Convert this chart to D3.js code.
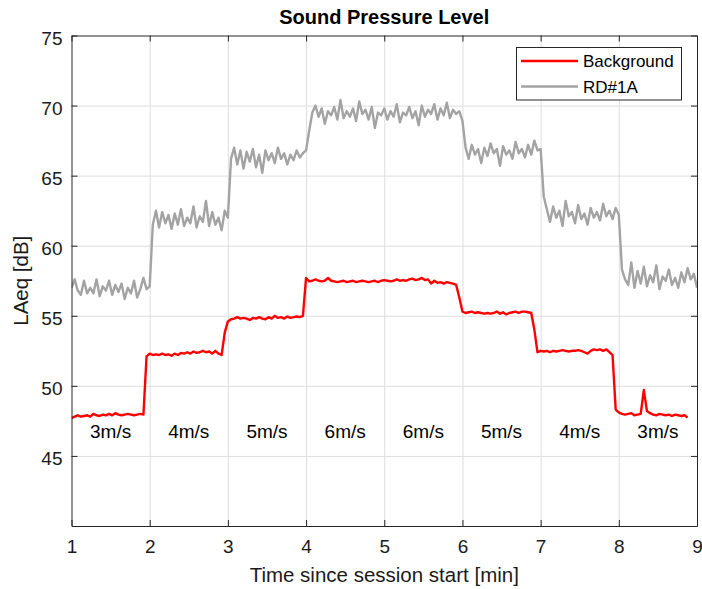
<!DOCTYPE html>
<html>
<head>
<meta charset="utf-8">
<script src="https://cdn.jsdelivr.net/npm/d3@7"></script>
<style>
  html, body { margin: 0; padding: 0; background: #ffffff; }
  svg { display: block; font-family: "Liberation Sans", Arial, Helvetica, sans-serif; }
</style>
</head>
<body>
<svg id="chart" width="702" height="589"></svg>
<script>
// ---------------- data ----------------
const chartTitle = "Sound Pressure Level";
const xLabel = "Time since session start [min]";
const yLabel = "LAeq [dB]";
const xTicks = [1, 2, 3, 4, 5, 6, 7, 8, 9];
const yTicks = [45, 50, 55, 60, 65, 70, 75];
const xDomain = [1, 9];
const yDomain = [40, 75];
const seriesNames = ["Background", "RD#1A"];
const windSpeeds = ["3m/s", "4m/s", "5m/s", "6m/s", "6m/s", "5m/s", "4m/s", "3m/s"];
const speedLabelLevel = 46.3;           // dB level where speed labels sit
const sampleStart = 1.0;                // min
const sampleStep = 0.04;                // min between samples

// Background (red), sampled every 0.04 min from 1.00
const background = [
  47.7, 47.8, 47.9, 47.8, 47.85, 47.9, 47.8, 48.0, 47.9, 47.85, 47.95, 47.9, 48.0, 47.9, 48.05, 47.95, 47.9, 47.95, 48.0, 47.95, 47.9, 47.95, 48.0, 47.95,
  52.1, 52.3, 52.2, 52.25, 52.2, 52.3, 52.2, 52.25, 52.15, 52.3, 52.2, 52.35, 52.3, 52.4, 52.3, 52.45, 52.35, 52.4, 52.5, 52.4, 52.45, 52.3, 52.5, 52.3, 52.2,
  53.8, 54.6,
  54.75, 54.8, 54.9, 54.8, 54.85, 54.8, 54.7, 54.85, 54.8, 54.9, 54.8, 54.75, 54.9, 54.8, 55.0, 54.85, 54.9, 54.8, 54.95, 54.85, 54.9, 54.95, 54.9, 55.0,
  57.7, 57.45, 57.5, 57.6, 57.5, 57.45, 57.5, 57.7, 57.5, 57.45, 57.4, 57.45, 57.5, 57.4, 57.45, 57.5, 57.4, 57.45, 57.5, 57.45, 57.4,
  57.45, 57.5, 57.4, 57.5, 57.55, 57.5, 57.45, 57.5, 57.6, 57.5, 57.55, 57.5, 57.6, 57.65, 57.55, 57.6, 57.7, 57.55, 57.6, 57.3, 57.5, 57.35, 57.4, 57.3, 57.4, 57.35, 57.3, 57.2,
  56.3, 55.3,
  55.2, 55.25, 55.3, 55.2, 55.25, 55.2, 55.15, 55.2, 55.15, 55.2, 55.3, 55.15, 55.25, 55.1, 55.2, 55.25, 55.3, 55.2, 55.3, 55.3, 55.25,
  55.2, 54.0, 52.4,
  52.5, 52.45, 52.5, 52.4, 52.5, 52.45, 52.5, 52.55, 52.5, 52.45, 52.5, 52.5, 52.55, 52.5, 52.4, 52.3, 52.5, 52.6, 52.55, 52.6, 52.5, 52.6, 52.4,
  52.2, 48.3,
  48.1, 48.0, 47.95, 48.0, 48.05, 47.9, 47.95, 48.0, 49.7, 48.2, 48.05, 47.95, 47.9, 48.0, 47.95, 47.9, 47.95, 47.85, 47.95, 47.9, 47.85, 47.9, 47.75
];

// RD#1A (grey), sampled every 0.04 min from 1.00
const rd1a = [
  57.0, 57.6, 56.8, 56.5, 57.5, 56.6, 57.0, 56.6, 57.6, 56.4, 57.1, 56.8, 57.5, 56.5, 57.2, 56.7, 57.3, 56.2, 57.0, 56.6, 57.5, 56.3, 56.9, 57.7, 56.9,
  57.1,
  61.5, 62.5, 61.3, 62.4, 61.6, 62.2, 61.2, 62.3, 61.5, 62.6, 61.4, 62.0, 61.6, 62.8, 61.3, 62.1, 61.7, 63.2, 61.4, 62.4, 61.5, 62.0, 61.1, 62.5, 62.0,
  66.2, 67.0, 65.8, 66.8, 65.5, 66.7, 66.0, 66.9, 65.6, 66.5, 65.2, 66.8, 66.1, 66.6, 65.9, 67.0, 66.2, 66.6, 65.8, 66.5, 66.1, 66.8, 66.3, 66.6,
  66.8, 68.2,
  69.5, 70.0, 69.2, 69.8, 68.7, 69.6, 69.3, 69.9, 69.0, 70.4,
  69.1, 69.6, 69.2, 69.8, 68.9, 70.3, 69.4, 69.7, 69.0, 69.9,
  68.4, 69.5, 69.3, 69.8, 69.0, 69.6, 69.2, 70.1, 68.8, 69.5,
  69.3, 69.9, 69.1, 69.6, 68.6, 70.0, 69.2, 69.7, 69.4, 70.1,
  69.0, 69.8, 69.3, 70.2, 69.1, 69.7, 69.4, 69.6,
  68.9,
  67.0, 66.2, 67.2, 66.5, 66.9, 65.9, 67.0, 66.4, 67.3, 66.6, 66.9, 65.7, 67.1, 66.5, 66.8, 66.2, 67.4, 66.6, 66.9, 66.3, 67.2, 66.5, 67.5, 66.8, 66.9,
  63.5,
  62.6, 61.7, 62.8, 62.0, 62.5, 61.4, 63.2, 62.1, 62.4, 61.6, 62.9, 61.9, 62.3, 61.5, 62.7, 62.0, 62.4, 61.8, 63.0, 62.1, 62.5, 61.9, 62.7, 62.2,
  58.3, 57.6, 57.2, 58.8, 57.0, 58.2, 57.3, 58.5, 57.1, 57.9, 57.4, 58.6, 56.9, 57.8, 57.5, 58.3, 57.2, 57.7, 57.0, 58.1, 57.4, 58.4, 57.6, 58.0, 57.0
];

const seriesColors = ["#ff0000", "#a3a3a3"];

// ---------------- layout ----------------
const W = 702, H = 589;
const mLeft = 71.5, mRight = 697, mTop = 35.5, mBottom = 526;

const svg = d3.select("#chart");

const x = d3.scaleLinear().domain(xDomain).range([mLeft, mRight]);
const y = d3.scaleLinear().domain(yDomain).range([mBottom, mTop]);

const axisColor = "#262626";
const gridColor = "#dedede";

// grid
svg.append("g")
  .attr("transform", `translate(0,${mBottom})`)
  .call(d3.axisBottom(x).tickValues(xTicks.slice(1, -1)).tickSize(-(mBottom - mTop)).tickFormat(""))
  .call(g => g.select(".domain").remove())
  .call(g => g.selectAll("line").attr("stroke", gridColor).attr("stroke-width", 1));
svg.append("g")
  .attr("transform", `translate(${mLeft},0)`)
  .call(d3.axisLeft(y).tickValues(yTicks.slice(0, -1)).tickSize(-(mRight - mLeft)).tickFormat(""))
  .call(g => g.select(".domain").remove())
  .call(g => g.selectAll("line").attr("stroke", gridColor).attr("stroke-width", 1));

// lines
const line = d3.line()
  .x((d, i) => x(sampleStart + i * sampleStep))
  .y(d => y(d));

svg.append("clipPath").attr("id", "plotclip")
  .append("rect").attr("x", mLeft).attr("y", mTop).attr("width", mRight - mLeft).attr("height", mBottom - mTop);

const plot = svg.append("g").attr("clip-path", "url(#plotclip)");
[background, rd1a].forEach((s, k) => {
  plot.append("path")
    .datum(s)
    .attr("fill", "none")
    .attr("stroke", seriesColors[k])
    .attr("stroke-width", 2.4)
    .attr("stroke-linejoin", "round")
    .attr("d", line);
});

// speed labels
svg.append("g").selectAll("text")
  .data(windSpeeds)
  .join("text")
  .attr("x", (d, i) => x(xDomain[0] + i + 0.5))
  .attr("y", y(speedLabelLevel))
  .attr("text-anchor", "middle")
  .attr("font-size", 19)
  .attr("fill", "#000")
  .text(d => d);

// axes (ticks inward, box)
const tickLen = 6;
const styleAxis = g => {
  g.select(".domain").attr("stroke", axisColor).attr("stroke-width", 1);
  g.selectAll(".tick line").attr("stroke", axisColor).attr("stroke-width", 1);
  g.selectAll(".tick text").attr("fill", "#1a1a1a").attr("font-size", 19)
    .attr("font-family", "'Liberation Sans', Arial, sans-serif");
};

svg.append("g")
  .attr("transform", `translate(0,${mBottom})`)
  .call(d3.axisBottom(x).tickValues(xTicks).tickSizeInner(-tickLen).tickSizeOuter(0).tickPadding(14).tickFormat(d3.format("d")))
  .call(styleAxis);
svg.append("g")
  .attr("transform", `translate(0,${mTop})`)
  .call(d3.axisTop(x).tickValues(xTicks).tickSizeInner(-tickLen).tickSizeOuter(0).tickFormat(""))
  .call(styleAxis);
svg.append("g")
  .attr("transform", `translate(${mLeft},0)`)
  .call(d3.axisLeft(y).tickValues(yTicks).tickSizeInner(-tickLen).tickSizeOuter(0).tickPadding(9).tickFormat(d3.format("d")))
  .call(styleAxis)
  .call(g => g.selectAll(".tick text").attr("dy", "0.45em"));
svg.append("g")
  .attr("transform", `translate(${mRight},0)`)
  .call(d3.axisRight(y).tickValues(yTicks).tickSizeInner(-tickLen).tickSizeOuter(0).tickFormat(""))
  .call(styleAxis);

// title and axis labels
svg.append("text")
  .attr("x", (mLeft + mRight) / 2).attr("y", 23.5)
  .attr("text-anchor", "middle")
  .attr("font-size", 20).attr("font-weight", "bold").attr("fill", "#000")
  .text(chartTitle);

svg.append("text")
  .attr("x", (mLeft + mRight) / 2).attr("y", 582)
  .attr("text-anchor", "middle")
  .attr("font-size", 20.5).attr("fill", "#1a1a1a")
  .text(xLabel);

svg.append("text")
  .attr("transform", `translate(28,${(mTop + mBottom) / 2}) rotate(-90)`)
  .attr("text-anchor", "middle")
  .attr("font-size", 20.5).attr("fill", "#1a1a1a")
  .text(yLabel);

// legend
const lg = svg.append("g");
lg.append("rect")
  .attr("x", 516.5).attr("y", 47.5).attr("width", 165).attr("height", 52.5)
  .attr("fill", "#fff").attr("stroke", axisColor).attr("stroke-width", 1);
seriesNames.forEach((n, k) => {
  const ly = 61 + k * 25.5;
  lg.append("line").attr("x1", 521).attr("x2", 578).attr("y1", ly).attr("y2", ly)
    .attr("stroke", seriesColors[k]).attr("stroke-width", 2.4);
  lg.append("text").attr("x", 583).attr("y", ly + 6)
    .attr("font-size", 17).attr("fill", "#000").text(n);
});
</script>
</body>
</html>
